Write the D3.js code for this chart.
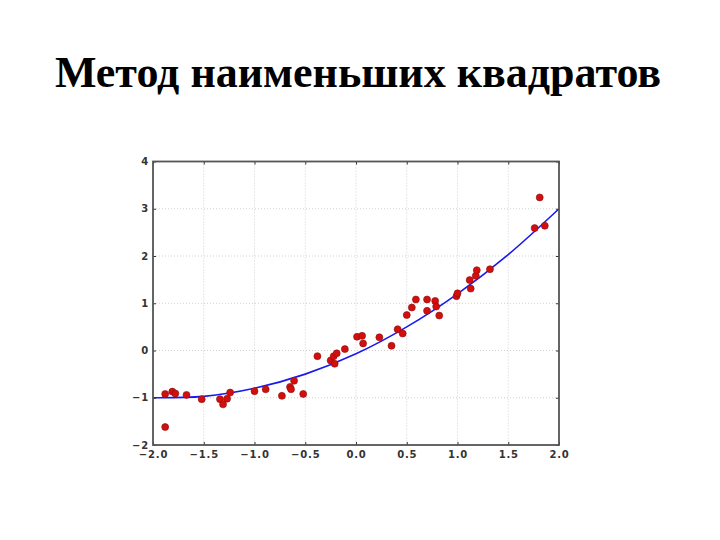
<!DOCTYPE html>
<html>
<head>
<meta charset="utf-8">
<script src="https://cdn.jsdelivr.net/npm/d3@7"></script>
<style>
  body { margin: 0; background: #fff; }
  svg { display: block; }
</style>
</head>
<body>
<svg id="chart" width="720" height="540"></svg>
<script>
const W = 720, H = 540;

// Scatter data
const pointsX = [-1.88, -1.81, -1.78, -1.67, -1.52, -1.34, -1.31, -1.27, -1.24, -1.0,
  -0.89, -0.73, -1.88, -0.65, -0.64, -0.61, -0.52, -0.38, -0.25, -0.22,
  -0.21, -0.19, -0.11, 0.01, 0.06, 0.07, 0.23, 0.35, 0.41, 0.46,
  0.5, 0.55, 0.59, 0.7, 0.7, 0.78, 0.79, 0.82, 0.99, 1.0,
  1.13, 1.12, 1.18, 1.19, 1.32, 1.76, 1.86, 1.81];
const pointsY = [-0.92, -0.87, -0.91, -0.94, -1.03, -1.03, -1.14, -1.02, -0.89, -0.86,
  -0.82, -0.96, -1.62, -0.77, -0.82, -0.64, -0.92, -0.12, -0.21, -0.12,
  -0.28, -0.06, 0.03, 0.29, 0.31, 0.15, 0.28, 0.1, 0.45, 0.36,
  0.75, 0.91, 1.08, 1.08, 0.84, 1.05, 0.93, 0.74, 1.15, 1.21,
  1.31, 1.49, 1.58, 1.7, 1.72, 2.59, 2.64, 3.24];

// Fitted curve
const curveX = [-2.0, -1.5, -1.0, -0.5, 0.0, 0.5, 1.0, 1.5, 2.0];
const curveY = [-1.0, -0.97, -0.8, -0.5, -0.07, 0.5, 1.2, 2.03, 3.0];

const xTicks = [-2.0, -1.5, -1.0, -0.5, 0.0, 0.5, 1.0, 1.5, 2.0];
const yTicks = [-2, -1, 0, 1, 2, 3, 4];

const title = "Метод наименьших квадратов";

const svg = d3.select("#chart");

// Title
svg.append("text")
  .attr("x", 358).attr("y", 87)
  .attr("text-anchor", "middle")
  .style("font-family", "'Liberation Serif','Times New Roman',serif")
  .style("font-weight", "bold")
  .style("font-size", "44px")
  .style("fill", "#000")
  .text(title);

// Plot area
const m = { left: 153, top: 161.5, right: 559, bottom: 445 };
const x = d3.scaleLinear().domain([-2, 2]).range([m.left, m.right]);
const y = d3.scaleLinear().domain([-2, 4]).range([m.bottom, m.top]);

const g = svg.append("g");

// Grid
g.append("g").selectAll("line")
  .data(xTicks.slice(1, -1)).join("line")
  .attr("x1", d => x(d)).attr("x2", d => x(d))
  .attr("y1", m.top).attr("y2", m.bottom)
  .attr("stroke", "#c4c4c4").attr("stroke-width", 0.8)
  .attr("stroke-dasharray", "1,2");
g.append("g").selectAll("line")
  .data(yTicks.slice(1, -1)).join("line")
  .attr("x1", m.left).attr("x2", m.right)
  .attr("y1", d => y(d)).attr("y2", d => y(d))
  .attr("stroke", "#c4c4c4").attr("stroke-width", 0.8)
  .attr("stroke-dasharray", "1,2");

// Fitted curve
g.append("path")
  .datum(curveX.map((v, i) => [v, curveY[i]]))
  .attr("d", d3.line().x(d => x(d[0])).y(d => y(d[1])).curve(d3.curveCatmullRom.alpha(0.5)))
  .attr("fill", "none")
  .attr("stroke", "#1a1aee")
  .attr("stroke-width", 1.6);

// Points
g.append("g").selectAll("circle")
  .data(pointsX.map((v, i) => [v, pointsY[i]])).join("circle")
  .attr("cx", d => x(d[0])).attr("cy", d => y(d[1]))
  .attr("r", 3.5)
  .attr("fill", "#d40d0d")
  .attr("stroke", "#8a1010").attr("stroke-width", 0.6);

// Axes (ticks inward, matplotlib style)
const fmtX = d => d3.format(".1f")(d).replace("-", "\u2212");
const fmtY = d => String(d).replace("-", "\u2212");

const axStyle = ax => {
  ax.select(".domain").remove();
  ax.selectAll(".tick line").attr("stroke", "#333");
  ax.selectAll(".tick text")
    .style("font-family", "'DejaVu Sans',sans-serif")
    .style("font-size", "10px")
    .style("font-weight", "bold")
    .style("letter-spacing", "0.8px")
    .style("fill", "#333");
};

g.append("g")
  .attr("transform", `translate(0,${m.bottom})`)
  .call(d3.axisBottom(x).tickValues(xTicks).tickFormat(fmtX).tickSizeInner(-3).tickSizeOuter(0).tickPadding(6))
  .call(axStyle);
g.append("g")
  .attr("transform", `translate(0,${m.top})`)
  .call(d3.axisTop(x).tickValues(xTicks).tickFormat("").tickSizeInner(-3).tickSizeOuter(0))
  .call(axStyle);
g.append("g")
  .attr("transform", `translate(${m.left},0)`)
  .call(d3.axisLeft(y).tickValues(yTicks).tickFormat(fmtY).tickSizeInner(-3).tickSizeOuter(0).tickPadding(4))
  .call(axStyle);
g.append("g")
  .attr("transform", `translate(${m.right},0)`)
  .call(d3.axisRight(y).tickValues(yTicks).tickFormat("").tickSizeInner(-3).tickSizeOuter(0))
  .call(axStyle);

// Frame
g.append("rect")
  .attr("x", m.left).attr("y", m.top)
  .attr("width", m.right - m.left).attr("height", m.bottom - m.top)
  .attr("fill", "none")
  .attr("stroke", "#555").attr("stroke-width", 1.8);
</script>
</body>
</html>
